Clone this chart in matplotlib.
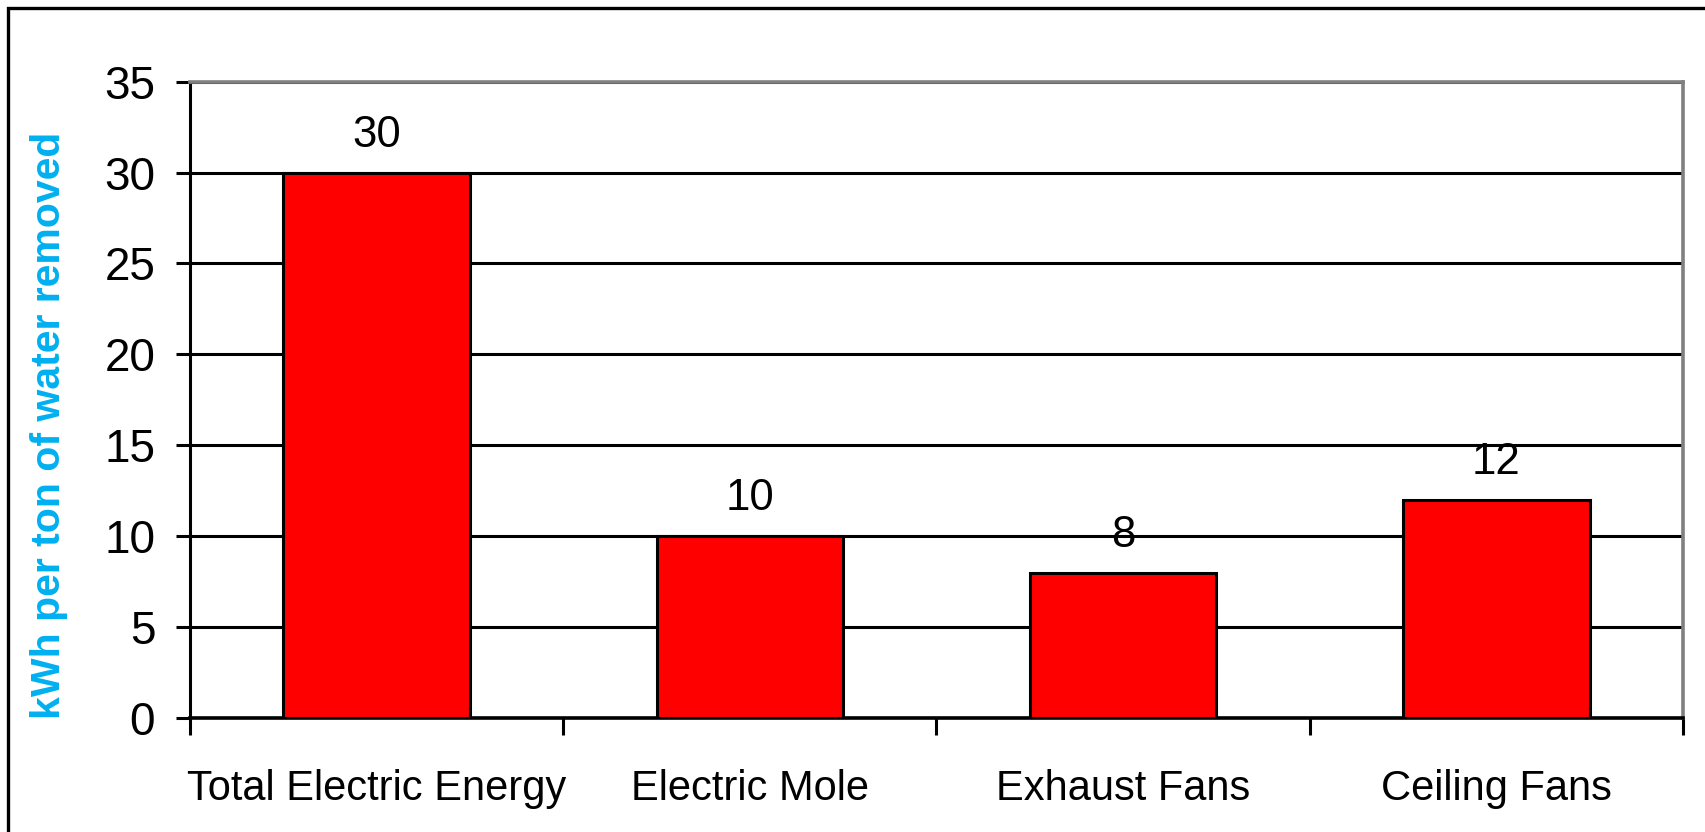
import matplotlib
matplotlib.use("Agg")
import matplotlib.pyplot as plt
from matplotlib.patches import Rectangle
import numpy as np

categories = ["Total Electric Energy", "Electric Mole", "Exhaust Fans", "Ceiling Fans"]
energy = [30, 10, 8, 12]
y_ticks = [0, 5, 10, 15, 20, 25, 30, 35]

plt.rcParams['font.family'] = ['Liberation Sans', 'DejaVu Sans']

fig = plt.figure(figsize=(17.05, 8.32), dpi=100)
ax = fig.add_axes([0.1114, 0.137, 0.8757, 0.7649])

# chart border, runs off the right and bottom edge
fig.patches.append(Rectangle((0.0047, -0.05), 1.05, 0.9903 + 0.05, transform=fig.transFigure,
                             fill=False, edgecolor='black', linewidth=2.4, clip_on=False))

x = np.arange(len(categories))
ax.set_axisbelow(True)
ax.yaxis.grid(True, color='black', linewidth=2.2)
bars = ax.bar(x, energy, width=0.5, color='#ff0000', edgecolor='black', linewidth=2.2, zorder=3)

for b, v in zip(bars, energy):
    ax.text(b.get_x() + b.get_width() / 2, v + 2.05, str(v), ha='center', va='center', fontsize=31.5)

ax.set_xlim(-0.5, len(categories) - 0.5)
ax.set_ylim(0, 35)
ax.set_yticks(y_ticks)
ax.tick_params(axis='y', labelsize=33, length=10, width=2.2, direction='out', pad=15)

# category labels sit between the boundary ticks
ax.set_xticks(np.arange(len(categories) + 1) - 0.5)
ax.set_xticklabels([])
ax.set_xticks(x, minor=True)
ax.set_xticklabels(categories, minor=True, fontsize=30)
ax.tick_params(axis='x', which='major', length=12, width=2.2, direction='out')
ax.tick_params(axis='x', which='minor', length=0, pad=36.5)

ax.spines['left'].set_linewidth(2.2)
ax.spines['bottom'].set_linewidth(2.6)
ax.spines['top'].set_color('#808080')
ax.spines['right'].set_color('#808080')
ax.spines['top'].set_linewidth(2.6)
ax.spines['right'].set_linewidth(2.6)

ax.set_ylabel("kWh per ton of water removed", color='#00b0f0', fontsize=29.5, fontweight='bold')
ax.yaxis.set_label_coords(-0.082, 0.46)

fig.savefig("out.png", dpi=100)
